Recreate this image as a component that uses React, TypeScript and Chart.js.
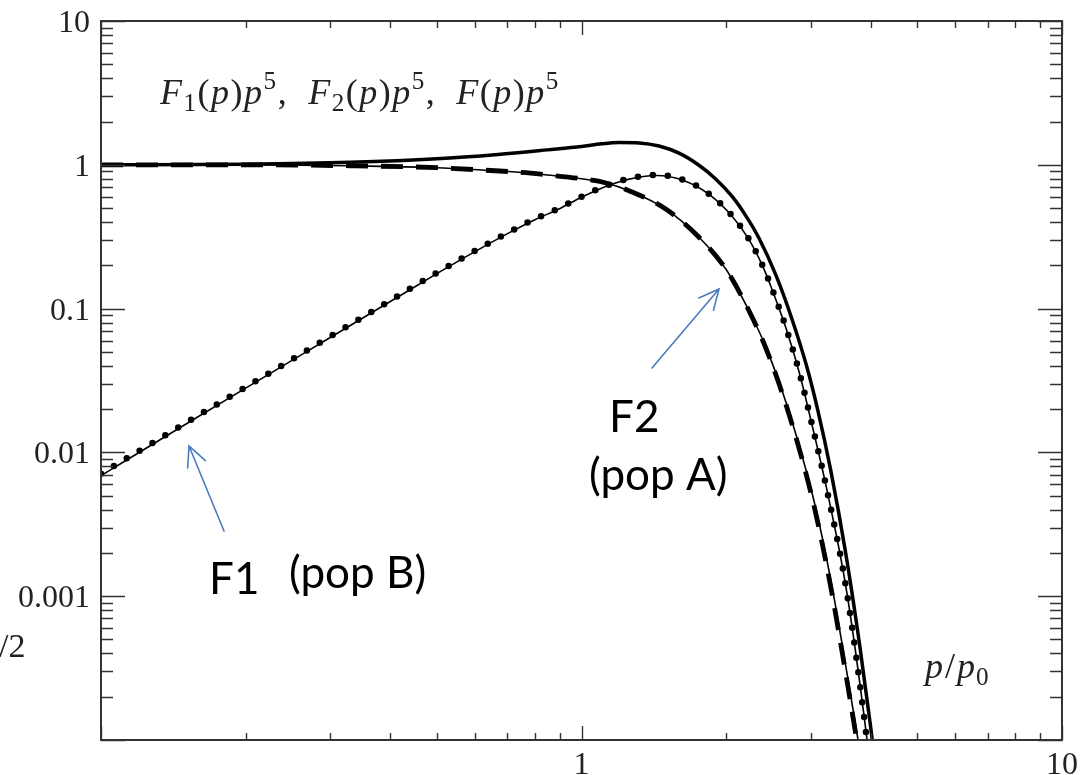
import React, { useEffect, useRef } from 'react';
import { Chart, registerables } from 'chart.js';

Chart.register(...registerables);

// ---- data (log-log axes) ----
const totalX = [0.1, 0.2, 0.33, 0.5, 0.67, 0.85, 1.0, 1.1, 1.2, 1.32, 1.45, 1.6, 1.75, 1.9, 2.06, 2.2, 2.34, 2.54, 2.74, 2.94, 3.1, 3.3, 3.55, 3.8, 4.0, 4.2];
const totalY = [1.0, 1.01, 1.04, 1.1, 1.18, 1.27, 1.34, 1.4, 1.43, 1.42, 1.35, 1.2, 1.0, 0.8, 0.6, 0.44, 0.31, 0.17, 0.085, 0.04, 0.0199, 0.00755, 0.00196, 0.000437, 0.000121, 0.000031];

const f2X = [0.1, 0.2, 0.33, 0.5, 0.62, 0.75, 0.85, 1.0, 1.12, 1.27, 1.5, 1.75, 2.0, 2.23, 2.42, 2.67, 2.94, 3.1, 3.32, 3.5, 3.73, 3.9];
const f2Y = [1.0, 1.0, 0.985, 0.955, 0.92, 0.885, 0.85, 0.8, 0.75, 0.65, 0.49, 0.317, 0.187, 0.097, 0.053, 0.021, 0.0069, 0.0033, 0.00105, 0.00038, 0.000105, 0.00004];
const f2ApproxY = [1.0, 1.0, 0.985, 0.955, 0.92, 0.885, 0.85, 0.8, 0.75, 0.65, 0.49, 0.317, 0.187, 0.097, 0.054, 0.0218, 0.0073, 0.0036, 0.00118, 0.00043, 0.00012, 0.000047];

const f1X = [0.1, 0.15, 0.2, 0.3, 0.4, 0.5, 0.6, 0.7, 0.8, 0.9, 1.0, 1.12, 1.25, 1.43, 1.62, 1.84, 2.06, 2.23, 2.38, 2.49, 2.67, 2.84, 3.02, 3.23, 3.56, 3.92, 4.1];
const f1Y = [0.0071, 0.016, 0.0284, 0.064, 0.1136, 0.1775, 0.252, 0.335, 0.42, 0.5, 0.6, 0.71, 0.8, 0.85, 0.79, 0.63, 0.44, 0.305, 0.2, 0.138, 0.072, 0.036, 0.0155, 0.0058, 0.0011, 0.000105, 0.000028];
const f1ApproxY = [0.0069, 0.0157, 0.028, 0.063, 0.112, 0.175, 0.249, 0.331, 0.415, 0.495, 0.594, 0.703, 0.792, 0.842, 0.783, 0.625, 0.437, 0.303, 0.199, 0.137, 0.0715, 0.0358, 0.0154, 0.0058, 0.0011, 0.000107, 0.000029];

const xTickValues = [1, 10];
const xTickLabels = ['1', '10'];
const yTickValues = [10, 1, 0.1, 0.01, 0.001];
const yTickLabels = ['10', '1', '0.1', '0.01', '0.001'];

const X_MIN = 0.1;
const X_MAX = 10;
const Y_MIN = 0.0001;
const Y_MAX = 10;

const SERIF = '"Liberation Serif", "DejaVu Serif", serif';
const SANS = 'Lato, "Open Sans", sans-serif';
const ARROW = '#4a7bbf';
const TEXT = '#222';

const pts = (xs: number[], ys: number[]) => xs.map((x, i) => ({ x, y: ys[i] }));

type Part = { t: string; i?: boolean; s?: 'sub' | 'sup'; g?: number };

function rich(ctx: CanvasRenderingContext2D, x: number, y: number, parts: Part[], size: number, extra = 0) {
  let cx = x;
  for (const p of parts) {
    const fs = p.s ? size * 0.7 : size;
    ctx.font = `${p.i ? 'italic ' : ''}${fs}px ${SERIF}`;
    const dy = p.s === 'sub' ? size * 0.2 : p.s === 'sup' ? -size * 0.42 : 0;
    ctx.fillText(p.t, cx, y + dy);
    cx += ctx.measureText(p.t).width + (p.g || 0) + extra;
  }
}

function arrow(ctx: CanvasRenderingContext2D, x1: number, y1: number, x2: number, y2: number) {
  const ang = Math.atan2(y2 - y1, x2 - x1);
  const hl = 22;
  const spread = 0.45;
  ctx.beginPath();
  ctx.moveTo(x1, y1);
  ctx.lineTo(x2, y2);
  ctx.moveTo(x2 - hl * Math.cos(ang - spread), y2 - hl * Math.sin(ang - spread));
  ctx.lineTo(x2, y2);
  ctx.lineTo(x2 - hl * Math.cos(ang + spread), y2 - hl * Math.sin(ang + spread));
  ctx.stroke();
}

const framePlugin = {
  id: 'frameTicks',
  afterDatasetsDraw(chart: any) {
    const { ctx, chartArea: a, scales } = chart;
    const xs = scales.x;
    const ys = scales.y;
    ctx.save();
    ctx.strokeStyle = '#333';
    ctx.lineWidth = 1.4;
    ctx.beginPath();
    for (let e = -4; e <= 1; e++) {
      for (let k = 1; k <= 9; k++) {
        const v = k * Math.pow(10, e);
        if (v < Y_MIN * 0.999 || v > Y_MAX * 1.001) continue;
        const py = Math.round(ys.getPixelForValue(v)) + 0.5;
        const len = k === 1 ? 24 : 12;
        ctx.moveTo(a.left, py);
        ctx.lineTo(a.left + len, py);
        ctx.moveTo(a.right, py);
        ctx.lineTo(a.right - len, py);
      }
    }
    for (let e = -1; e <= 1; e++) {
      for (let k = 1; k <= 9; k++) {
        const v = k * Math.pow(10, e);
        if (v < X_MIN * 0.999 || v > X_MAX * 1.001) continue;
        const px = Math.round(xs.getPixelForValue(v)) + 0.5;
        const len = k === 1 ? 14 : 7;
        ctx.moveTo(px, a.bottom);
        ctx.lineTo(px, a.bottom - len);
        ctx.moveTo(px, a.top);
        ctx.lineTo(px, a.top + len);
      }
    }
    ctx.stroke();
    ctx.lineWidth = 2;
    ctx.strokeRect(a.left, a.top, a.right - a.left, a.bottom - a.top);
    ctx.restore();
  },
  afterDraw(chart: any) {
    const { ctx, chartArea: a, scales } = chart;
    ctx.save();
    ctx.fillStyle = TEXT;
    // tick labels
    ctx.font = `32px ${SERIF}`;
    ctx.textBaseline = 'alphabetic';
    ctx.textAlign = 'right';
    yTickValues.forEach((v, i) => {
      ctx.fillText(yTickLabels[i], a.left - 11, scales.y.getPixelForValue(v) + 11);
    });
    ctx.textAlign = 'center';
    xTickValues.forEach((v, i) => {
      ctx.fillText(xTickLabels[i], scales.x.getPixelForValue(v), a.bottom + 34);
    });

    ctx.textAlign = 'left';
    // inner title
    rich(ctx, 160, 104, [
      { t: 'F', i: true }, { t: '1', s: 'sub' }, { t: '(' }, { t: 'p', i: true }, { t: ')' }, { t: 'p', i: true }, { t: '5', s: 'sup' }, { t: ',', g: 20 },
      { t: 'F', i: true }, { t: '2', s: 'sub' }, { t: '(' }, { t: 'p', i: true }, { t: ')' }, { t: 'p', i: true }, { t: '5', s: 'sup' }, { t: ',', g: 20 },
      { t: 'F', i: true }, { t: '(' }, { t: 'p', i: true }, { t: ')' }, { t: 'p', i: true }, { t: '5', s: 'sup' },
    ], 36, 1.5);
    // x axis name
    rich(ctx, 925, 678, [{ t: 'p', i: true, g: 2 }, { t: '/', g: 2 }, { t: 'p', i: true, g: 1 }, { t: '0', s: 'sub' }], 36);
    // cut-off y axis name fragment
    rich(ctx, -1, 657, [{ t: '/2' }], 34);

    // annotations
    ctx.fillStyle = '#000';
    ctx.font = `44px ${SANS}`;
    ctx.fillText('F2', 609, 432);
    ctx.fillText('F1', 209, 594);
    ctx.fillText('(pop A)', 589, 490);
    ctx.fillText('(pop B)', 289, 588);

    ctx.strokeStyle = ARROW;
    ctx.lineWidth = 1.6;
    ctx.lineCap = 'round';
    arrow(ctx, 224, 531, 189, 446);
    arrow(ctx, 652, 368, 719, 289);
    ctx.restore();
  },
};

export default function App() {
  const ref = useRef<HTMLCanvasElement>(null);
  useEffect(() => {
    if (!ref.current) return;
    const common = { borderColor: '#000', pointRadius: 0, cubicInterpolationMode: 'monotone' };
    const chart = new Chart(ref.current, {
      type: 'line',
      data: {
        datasets: [
          { ...common, label: 'F', data: pts(totalX, totalY), borderWidth: 3.5 },
          { ...common, label: 'F2', data: pts(f2X, f2Y), borderWidth: 4.8, borderDash: [22, 13] },
          { ...common, label: 'F2 approx', data: pts(f2X, f2ApproxY), borderWidth: 1.6 },
          { ...common, label: 'F1', data: pts(f1X, f1Y), borderWidth: 6.5, borderDash: [0, 15], borderCapStyle: 'round' },
          { ...common, label: 'F1 approx', data: pts(f1X, f1ApproxY), borderWidth: 1.6 },
        ] as any,
      },
      options: {
        animation: false,
        responsive: false,
        devicePixelRatio: 1,
        layout: { padding: { top: 21, right: 19, left: 101, bottom: 35 } },
        plugins: { legend: { display: false }, tooltip: { enabled: false } },
        scales: {
          x: { type: 'logarithmic', min: X_MIN, max: X_MAX, display: false },
          y: { type: 'logarithmic', min: Y_MIN, max: Y_MAX, display: false },
        },
      } as any,
      plugins: [framePlugin],
    });
    return () => chart.destroy();
  }, []);
  return (
    <div style={{ position: 'fixed', left: 0, top: 0, width: 1081, height: 775, background: '#fff' }}>
      <canvas ref={ref} width={1081} height={775} style={{ display: 'block', width: 1081, height: 775 }} />
    </div>
  );
}
